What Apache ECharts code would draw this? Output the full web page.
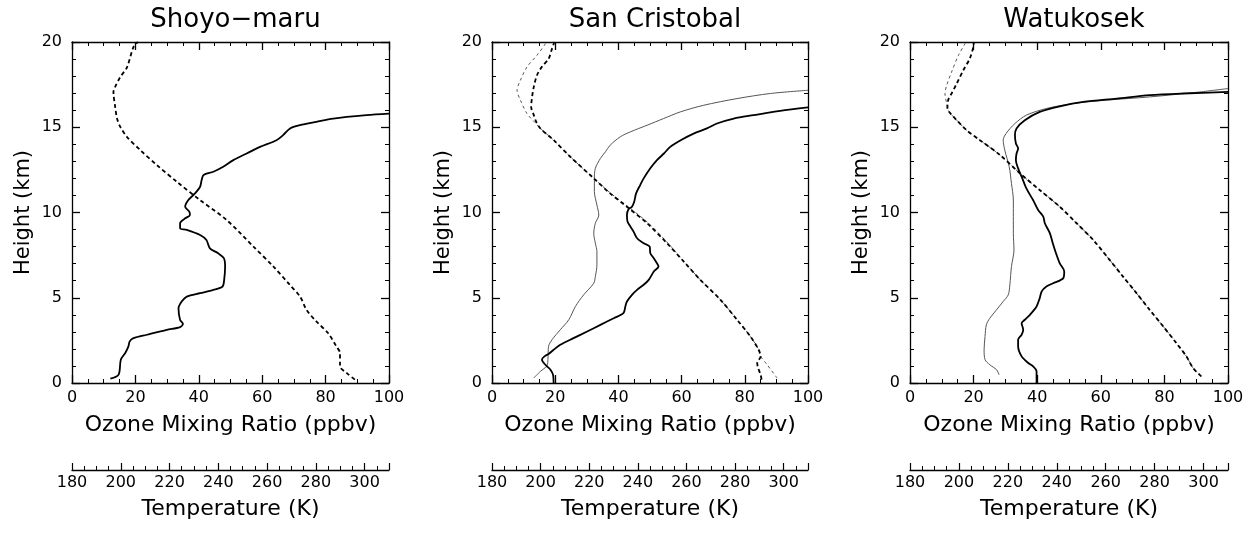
<!DOCTYPE html>
<html>
<head>
<meta charset="utf-8">
<script src="https://cdn.jsdelivr.net/npm/echarts@6/dist/echarts.min.js"></script>
<style>
html,body{margin:0;padding:0;background:#fff;}
#chart{width:1253px;height:545px;}
</style>
</head>
<body>
<div id="chart"></div>
<script>
// ---- Data: [value, height(km)] ----
const panelTitles = ['Shoyo\u2212maru', 'San Cristobal', 'Watukosek'];
const ozoneTicks = [0, 20, 40, 60, 80, 100];
const heightTicks = [0, 5, 10, 15, 20];
const tempTicks = [180, 200, 220, 240, 260, 280, 300];

// Shoyo-maru ozone (ppbv)
const shoyoOzone = [
  [12.1,0.25],[14.7,0.49],[15.4,1.37],[16.8,1.76],[17.8,2.15],[18.2,2.44],[19.4,2.63],[23.6,2.83],
  [29.9,3.12],[34.1,3.28],[35.0,3.47],[34.1,3.7],[33.6,4.39],[34.6,4.78],[36.2,5.07],[40.4,5.27],
  [44.6,5.46],[47.5,5.66],[48.0,6.05],[48.3,6.83],[47.9,7.32],[46.1,7.61],[43.5,7.9],[42.4,8.39],
  [40.4,8.68],[36.2,8.98],[34.1,9.07],[34.1,9.37],[35.7,9.66],[37.2,9.85],[37.0,10.05],[35.7,10.34],
  [36.7,10.73],[38.8,11.12],[40.4,11.51],[40.9,11.9],[41.5,12.2],[44.6,12.39],[47.7,12.68],[50.9,13.07],
  [55.1,13.46],[59.3,13.85],[64.5,14.24],[66.6,14.54],[68.8,14.93],[71.9,15.12],[77.1,15.32],[82.4,15.51],
  [92.9,15.71],[100,15.8]
];
// Shoyo-maru temperature (K)
const shoyoTemp = [
  [296.0,0.2],[292.6,0.59],[289.9,0.98],[289.9,1.76],[288.4,2.15],[285.0,2.93],[280.2,3.61],[276.2,4.29],
  [273.5,5.07],[269.3,5.76],[262.6,6.83],[254.4,8.0],[243.4,9.56],[232.5,10.73],[223.0,11.8],[214.8,12.78],
  [208.0,13.66],[202.5,14.44],[199.8,15.02],[198.5,15.5],[197.7,16.2],[197.0,17.07],[197.7,17.37],
  [199.8,17.95],[202.5,18.5],[205.2,19.7],[207.0,20.0]
];

// San Cristobal ozone, profile 1 (thick) and profile 2 (thin)
const sanCrOzone1 = [
  [19.5,0],[19.3,0.49],[18.5,0.78],[17.4,0.98],[16.4,1.17],[15.8,1.37],[16.6,1.56],[18.0,1.72],
  [19.5,1.95],[21.6,2.24],[25.8,2.63],[30.1,3.02],[34.3,3.41],[38.5,3.80],[41.6,4.10],[42.2,4.49],
  [42.7,4.78],[44.3,5.17],[45.9,5.46],[48.0,5.76],[49.6,6.05],[51.2,6.54],[52.7,6.83],[52.2,7.02],
  [51.2,7.32],[50.1,7.61],[49.9,8.0],[48.0,8.2],[45.9,8.49],[44.8,8.88],[43.8,9.17],[42.9,9.46],
  [42.7,9.85],[43.2,10.19],[44.3,10.34],[45.0,10.63],[45.6,11.12],[46.9,11.61],[48.0,12.0],[50.1,12.59],
  [52.2,13.07],[54.4,13.46],[56.4,13.85],[59.7,14.24],[63.8,14.63],[68.0,14.93],[71.2,15.22],[76.5,15.51],
  [82.8,15.71],[91.2,15.96],[100,16.16]
];
const sanCrOzone2 = [
  [13.2,0.29],[15.3,0.68],[17.4,1.01],[17.7,1.37],[17.9,2.15],[19.0,2.54],[21.6,3.12],[24.3,3.71],
  [26.4,4.49],[29.0,5.17],[32.2,5.85],[32.7,6.24],[33.2,6.93],[33.2,7.71],[32.7,8.20],[32.2,8.78],
  [32.7,9.37],[33.8,9.85],[33.2,10.44],[32.4,11.22],[32.4,12.0],[32.7,12.59],[34.3,13.17],[35.9,13.56],
  [37.4,13.95],[40.6,14.44],[43.8,14.73],[49.1,15.12],[54.3,15.51],[59.6,15.90],[67.0,16.29],[77.5,16.68],
  [88.1,16.98],[100,17.17]
];
const sanCrTemp1 = [
  [290.9,0.2],[290.5,0.49],[289.5,0.88],[289.1,1.17],[290.5,1.56],[289.7,1.95],[286.3,2.73],[280.8,3.71],
  [274.0,4.88],[265.7,6.05],[258.9,7.12],[252.0,8.2],[243.8,9.37],[235.5,10.34],[228.6,11.12],[221.9,12.0],
  [212.2,13.27],[205.4,14.24],[199.9,14.93],[198.2,15.32],[197.2,15.71],[196.1,16.2],[196.5,16.78],
  [197.2,17.37],[198.5,18.05],[200.5,18.54],[203.3,19.02],[204.7,19.61],[205.4,19.9],[205.6,20.0]
];
const sanCrTemp2 = [
  [297.3,0.29],[293.2,1.07],[290.5,1.56],[289.7,1.95],[286.3,2.73],[280.8,3.71],[274.0,4.88],[265.7,6.05],
  [259.0,7.12],[252.4,8.2],[244.4,9.37],[236.0,10.34],[228.9,11.12],[221.9,12.0],[212.2,13.27],[205.4,14.24],
  [199.9,14.93],[197.8,15.26],[194.4,15.8],[191.7,16.59],[190.3,17.17],[191.7,17.76],[194.4,18.54],
  [198.5,19.22],[202.0,19.9],[202.3,20.0]
];

// Watukosek ozone, profile 1 (thick) and profile 2 (thin)
const watuOzone1 = [
  [39.8,0],[39.8,0.68],[38.7,0.98],[37.2,1.17],[35.1,1.56],[34.0,2.15],[34.0,2.54],[35.1,2.83],
  [35.6,3.12],[35.1,3.51],[36.1,3.71],[37.7,4.0],[39.8,4.49],[40.8,4.98],[41.4,5.37],[42.9,5.66],
  [45.0,5.85],[48.2,6.15],[48.5,6.54],[47.1,7.02],[46.1,7.51],[44.9,8.2],[44.0,8.78],[42.4,9.37],
  [41.9,9.76],[40.3,10.15],[38.7,10.73],[36.6,11.41],[35.1,12.1],[34.0,12.59],[33.3,13.07],[33.5,13.46],
  [34.0,13.76],[33.3,14.05],[33.0,14.54],[33.5,14.93],[36.1,15.41],[40.8,15.9],[47.1,16.23],[54.5,16.49],
  [65.0,16.68],[75.4,16.88],[85.9,16.98],[100,17.07]
];
const watuOzone2 = [
  [28.0,0.49],[27.2,0.78],[25.1,1.07],[23.6,1.37],[23.3,1.95],[23.6,2.73],[24.0,3.41],[25.1,3.80],
  [27.2,4.29],[29.3,4.78],[30.9,5.17],[31.4,5.76],[31.9,6.83],[32.7,7.8],[32.5,8.78],[32.5,9.76],
  [32.5,10.73],[31.9,11.71],[31.2,12.68],[29.8,13.66],[29.3,14.24],[30.2,14.63],[33.0,15.22],[36.6,15.71],
  [42.9,16.1],[51.3,16.39],[61.8,16.59],[75.4,16.78],[91.1,17.07],[100,17.27]
];
const watuTemp1 = [
  [299.1,0.39],[295.7,0.88],[293.0,1.56],[288.9,2.34],[283.5,3.32],[278.0,4.29],[272.6,5.27],[267.1,6.24],
  [261.6,7.22],[254.9,8.39],[248.1,9.37],[241.2,10.34],[233.0,11.32],[225.0,12.29],[216.8,13.37],[208.6,14.24],
  [203.1,14.83],[199.1,15.41],[196.6,15.8],[195.3,16.1],[195.6,16.59],[197.0,16.98],[199.1,17.56],
  [201.8,18.34],[204.4,19.02],[205.9,19.71],[206.1,20.0]
];
const watuTemp2 = [
  [299.1,0.39],[295.7,0.88],[293.0,1.56],[288.9,2.34],[283.5,3.32],[278.0,4.29],[272.6,5.27],[267.1,6.24],
  [261.6,7.22],[254.9,8.39],[248.1,9.37],[241.2,10.34],[233.0,11.32],[225.0,12.29],[216.8,13.37],[208.6,14.24],
  [203.1,14.83],[199.1,15.41],[196.6,15.8],[195.6,16.0],[195.0,16.39],[194.3,16.98],[195.0,17.46],
  [197.0,18.24],[199.8,19.22],[202.5,19.9],[202.7,20.0]
];

// ---- Layout / styling ----
const FONT = 'DejaVu Sans';
const grids = [
  {left: 72, top: 42, width: 317, height: 341},
  {left: 492, top: 42, width: 316, height: 341},
  {left: 910, top: 42, width: 318, height: 341}
];

const panels = [
  {ozone: [[shoyoOzone, 'thick']], temp: [[shoyoTemp, 'thick']]},
  {ozone: [[sanCrOzone2, 'thin'], [sanCrOzone1, 'thick']], temp: [[sanCrTemp2, 'thin'], [sanCrTemp1, 'thick']]},
  {ozone: [[watuOzone2, 'thin'], [watuOzone1, 'thick']], temp: [[watuTemp2, 'thin'], [watuTemp1, 'thick']]}
];

const axisLineStyle = {color: '#000', width: 1.3};
const lbl = {color: '#000', fontFamily: FONT, fontSize: 16};

const xAxes = [], yAxes = [], series = [], titles = [];
grids.forEach((g, p) => {
  titles.push({
    text: panelTitles[p], left: g.left + g.width / 2, top: 2, textAlign: 'center',
    textStyle: {fontFamily: FONT, fontSize: 26, fontWeight: 'normal', color: '#000'}
  });
  // ozone bottom
  xAxes.push({
    gridIndex: p, type: 'value', position: 'bottom', min: ozoneTicks[0], max: ozoneTicks[ozoneTicks.length - 1],
    interval: ozoneTicks[1] - ozoneTicks[0],
    name: 'Ozone Mixing Ratio (ppbv)', nameLocation: 'middle', nameGap: 31,
    nameTextStyle: {fontFamily: FONT, fontSize: 22, color: '#000'},
    axisLine: {show: true, onZero: false, lineStyle: axisLineStyle},
    axisTick: {show: true, inside: true, length: 8, lineStyle: {color: '#000', width: 1.3}},
    minorTick: {show: true, splitNumber: 4, length: 4, lineStyle: {color: '#000', width: 1}},
    axisLabel: Object.assign({margin: 7}, lbl),
    splitLine: {show: false}
  });
  // ozone top (frame)
  xAxes.push({
    gridIndex: p, type: 'value', position: 'top', min: ozoneTicks[0], max: ozoneTicks[ozoneTicks.length - 1],
    interval: ozoneTicks[1] - ozoneTicks[0],
    axisLine: {show: true, onZero: false, lineStyle: axisLineStyle},
    axisTick: {show: true, inside: true, length: 8, lineStyle: {color: '#000', width: 1.3}},
    minorTick: {show: true, splitNumber: 4, length: 4, lineStyle: {color: '#000', width: 1}},
    axisLabel: {show: false}, splitLine: {show: false}
  });
  // temperature (offset bottom)
  xAxes.push({
    gridIndex: p, type: 'value', position: 'bottom', offset: 87,
    min: tempTicks[0], max: 310, interval: tempTicks[1] - tempTicks[0],
    name: 'Temperature (K)', nameLocation: 'middle', nameGap: 28,
    nameTextStyle: {fontFamily: FONT, fontSize: 22, color: '#000'},
    axisLine: {show: true, onZero: false, lineStyle: axisLineStyle},
    axisTick: {show: true, inside: true, length: 7, lineStyle: {color: '#000', width: 1.2}},
    minorTick: {show: true, splitNumber: 4, length: 4, lineStyle: {color: '#000', width: 1}},
    axisLabel: Object.assign({margin: 5, showMaxLabel: false}, lbl),
    splitLine: {show: false}
  });
  // height left
  yAxes.push({
    gridIndex: p, type: 'value', position: 'left', min: heightTicks[0], max: heightTicks[heightTicks.length - 1],
    interval: heightTicks[1] - heightTicks[0],
    name: 'Height (km)', nameLocation: 'middle', nameGap: 38,
    nameTextStyle: {fontFamily: FONT, fontSize: 21, color: '#000'},
    axisLine: {show: true, onZero: false, lineStyle: axisLineStyle},
    axisTick: {show: true, inside: true, length: 8, lineStyle: {color: '#000', width: 1.3}},
    minorTick: {show: true, splitNumber: 5, length: 4, lineStyle: {color: '#000', width: 1}},
    axisLabel: Object.assign({margin: 10}, lbl),
    splitLine: {show: false}
  });
  // height right (frame)
  yAxes.push({
    gridIndex: p, type: 'value', position: 'right', min: heightTicks[0], max: heightTicks[heightTicks.length - 1],
    interval: heightTicks[1] - heightTicks[0],
    axisLine: {show: true, onZero: false, lineStyle: axisLineStyle},
    axisTick: {show: true, inside: true, length: 8, lineStyle: {color: '#000', width: 1.3}},
    minorTick: {show: true, splitNumber: 5, length: 4, lineStyle: {color: '#000', width: 1}},
    axisLabel: {show: false}, splitLine: {show: false}
  });

  const styleFor = (kind, dashed) => {
    const thick = kind === 'thick';
    return {
      color: thick ? '#000' : '#555',
      width: thick ? 1.8 : 1,
      type: dashed ? (thick ? [4, 3] : [3, 3]) : 'solid'
    };
  };
  panels[p].ozone.forEach(([data, kind]) => {
    series.push({
      type: 'line', xAxisIndex: 3 * p, yAxisIndex: 2 * p, data: data, showSymbol: false, symbol: 'none',
      smooth: 0.3, lineStyle: styleFor(kind, false), clip: true, animation: false, silent: true
    });
  });
  panels[p].temp.forEach(([data, kind]) => {
    series.push({
      type: 'line', xAxisIndex: 3 * p + 2, yAxisIndex: 2 * p, data: data, showSymbol: false, symbol: 'none',
      smooth: 0.3, lineStyle: styleFor(kind, true), clip: true, animation: false, silent: true
    });
  });
});

const chart = echarts.init(document.getElementById('chart'), null, {renderer: 'canvas'});
chart.setOption({
  backgroundColor: '#fff',
  animation: false,
  title: titles,
  grid: grids,
  xAxis: xAxes,
  yAxis: yAxes,
  series: series
});
</script>
</body>
</html>
